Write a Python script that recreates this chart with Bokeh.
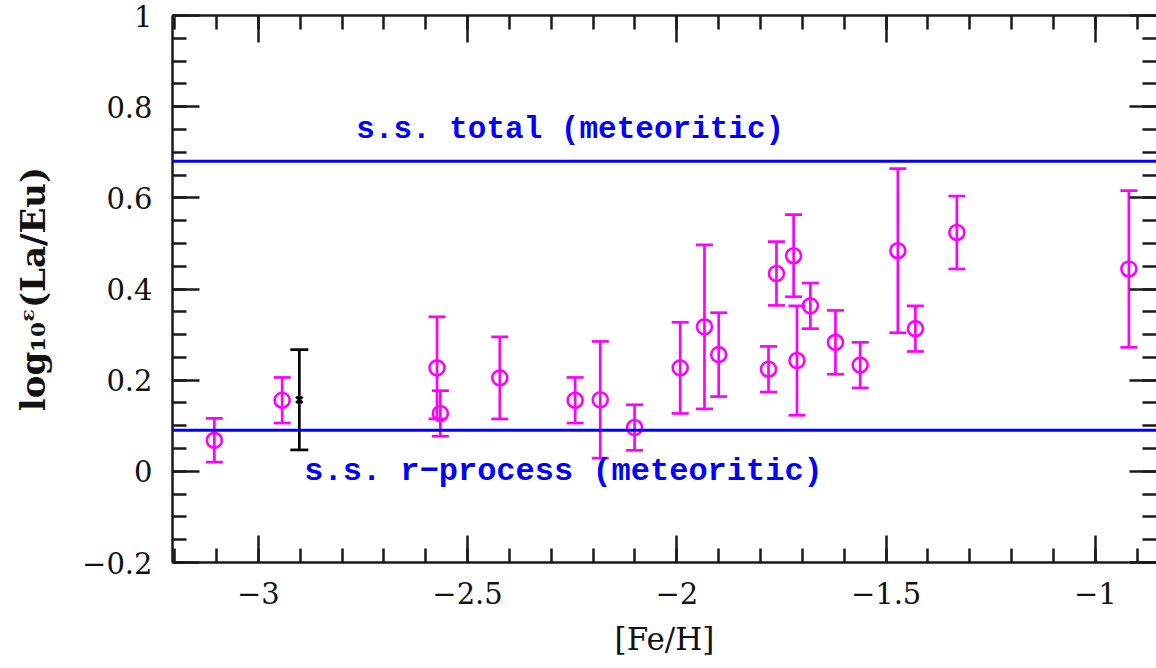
from bokeh.plotting import figure
from bokeh.models import (ColumnDataSource, Whisker, TeeHead, LinearAxis, SingleIntervalTicker,
                          CustomJSTickFormatter, Range1d, Label, Span)
from bokeh.embed import file_html
from bokeh.resources import INLINE

# ---- data ----
fe_h = [-3.105, -2.943, -2.573, -2.565, -2.423, -2.243, -2.183, -2.101, -1.992, -1.934, -1.900,
        -1.781, -1.762, -1.721, -1.713, -1.681, -1.621, -1.562, -1.472, -1.430, -1.331, -0.920]
la_eu = [0.068, 0.156, 0.227, 0.127, 0.205, 0.156, 0.157, 0.096, 0.227, 0.317, 0.256,
         0.224, 0.434, 0.473, 0.243, 0.363, 0.283, 0.233, 0.484, 0.313, 0.524, 0.444]
la_eu_err = [0.048, 0.05, 0.112, 0.05, 0.09, 0.05, 0.128, 0.05, 0.10, 0.18, 0.092,
             0.05, 0.07, 0.09, 0.12, 0.05, 0.07, 0.05, 0.18, 0.05, 0.08, 0.172]

ref_fe_h = [-2.902]
ref_la_eu = [0.157]
ref_err = [0.11]

ss_total = 0.68
ss_rprocess = 0.09
ss_total_label = "s.s. total (meteoritic)"
ss_rprocess_label = "s.s. r\u2212process (meteoritic)"
ss_total_label_pos = (-2.766, 0.749)
ss_rprocess_label_pos = (-2.890, 0.0)

x_range = (-3.205, -0.854)
y_range = (-0.2, 1.0)

MAGENTA = "#FF00FF"
BLUE = "#0000FF"
AXIS = "#1a1a1a"

src = ColumnDataSource(dict(
    x=fe_h, y=la_eu,
    lo=[v - e for v, e in zip(la_eu, la_eu_err)],
    hi=[v + e for v, e in zip(la_eu, la_eu_err)],
))
ref_src = ColumnDataSource(dict(
    x=ref_fe_h, y=ref_la_eu,
    lo=[v - e for v, e in zip(ref_la_eu, ref_err)],
    hi=[v + e for v, e in zip(ref_la_eu, ref_err)],
))

p = figure(width=1156, height=668, output_backend="svg", toolbar_location=None,
           x_range=Range1d(*x_range), y_range=Range1d(*y_range),
           min_border_left=172, min_border_right=0, min_border_top=15, min_border_bottom=106,
           x_axis_label="[Fe/H]", y_axis_label="log\u2081\u2080\u1d4b(La/Eu)")
p.outline_line_color = None
p.grid.visible = False
p.background_fill_color = "white"
p.border_fill_color = "white"

bottom = p.below[0]
left = p.left[0]

minus_fmt = CustomJSTickFormatter(code="""
const v = Math.round(tick*100)/100;
if (v === 0) return "0";
return (v < 0 ? "\\u2212" : "") + String(Math.abs(v));
""")
blank_fmt = CustomJSTickFormatter(code="return '';")

bottom.ticker = SingleIntervalTicker(interval=0.5, num_minor_ticks=5)
left.ticker = SingleIntervalTicker(interval=0.2, num_minor_ticks=4)
bottom.formatter = minus_fmt
left.formatter = minus_fmt

top = LinearAxis(ticker=SingleIntervalTicker(interval=0.5, num_minor_ticks=5), formatter=blank_fmt)
right = LinearAxis(ticker=SingleIntervalTicker(interval=0.2, num_minor_ticks=4), formatter=blank_fmt)
p.add_layout(top, "above")
p.add_layout(right, "right")

for ax in [bottom, left, top, right]:
    ax.major_tick_in = 27
    ax.major_tick_out = 0
    ax.minor_tick_in = 14
    ax.minor_tick_out = 0
    ax.axis_line_width = 2.5
    ax.axis_line_color = AXIS
    ax.major_tick_line_width = 2.5
    ax.minor_tick_line_width = 2.5
    ax.major_tick_line_color = AXIS
    ax.minor_tick_line_color = AXIS

for ax in [top, right]:
    ax.major_label_text_font_size = "0px"
    ax.major_label_standoff = 0
right.axis_line_color = None

for ax in [bottom, left]:
    ax.major_label_text_font = "DejaVu Serif"
    ax.major_label_text_font_size = "29px"
    ax.major_label_text_color = "#111111"
    ax.axis_label_text_font = "DejaVu Serif"
    ax.axis_label_text_font_style = "normal"
    ax.axis_label_text_color = "#111111"

bottom.major_label_standoff = 19
left.major_label_standoff = 20
bottom.axis_label_text_font_size = "31px"
bottom.axis_label_standoff = 14
left.axis_label_text_font_size = "34px"
left.axis_label_text_font_style = "bold"
left.axis_label_standoff = 26

# solar-system reference lines
p.add_layout(Span(location=ss_total, dimension="width", line_color=BLUE, line_width=3))
p.add_layout(Span(location=ss_rprocess, dimension="width", line_color=BLUE, line_width=3))

p.add_layout(Label(x=ss_total_label_pos[0], y=ss_total_label_pos[1], text=ss_total_label,
                   text_font="Liberation Mono", text_font_style="bold", text_font_size="31px",
                   text_color=BLUE, text_baseline="middle", text_align="left"))
p.add_layout(Label(x=ss_rprocess_label_pos[0], y=ss_rprocess_label_pos[1], text=ss_rprocess_label,
                   text_font="Liberation Mono", text_font_style="bold", text_font_size="32px",
                   text_color=BLUE, text_baseline="middle", text_align="left"))

# error bars
p.add_layout(Whisker(source=src, base="x", lower="lo", upper="hi", dimension="height",
                     line_color=MAGENTA, line_width=2.7,
                     lower_head=TeeHead(size=17, line_color=MAGENTA, line_width=2.7),
                     upper_head=TeeHead(size=17, line_color=MAGENTA, line_width=2.7)))
p.add_layout(Whisker(source=ref_src, base="x", lower="lo", upper="hi", dimension="height",
                     line_color="black", line_width=2.7,
                     lower_head=TeeHead(size=18, line_color="black", line_width=2.7),
                     upper_head=TeeHead(size=18, line_color="black", line_width=2.7)))

p.scatter("x", "y", source=src, marker="circle", size=15, fill_color=None,
          line_color=MAGENTA, line_width=2.6)
p.scatter("x", "y", source=ref_src, marker="x", size=9, line_color="black", line_width=2.7)

open("out.html", "w").write(file_html(p, INLINE))
